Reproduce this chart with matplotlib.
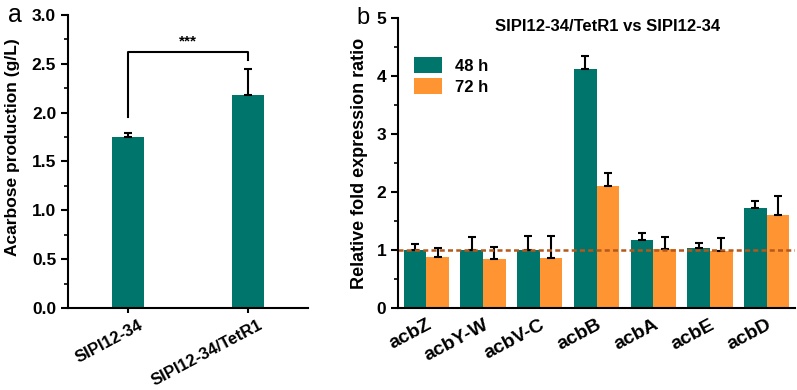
import numpy as np
import matplotlib
matplotlib.use('Agg')
import matplotlib.pyplot as plt
import matplotlib.transforms as mtransforms
from matplotlib.ticker import MultipleLocator

plt.rcParams['font.family'] = ['Liberation Sans', 'DejaVu Sans']
plt.rcParams['font.weight'] = 'bold'

# panel a data
strains = ['SIPI12-34', 'SIPI12-34/TetR1']
production = [1.75, 2.18]
production_err = [0.04, 0.27]

# panel b data
genes = ['acbZ', 'acbY-W', 'acbV-C', 'acbB', 'acbA', 'acbE', 'acbD']
ratio_48h = [1.00, 1.00, 1.00, 4.12, 1.18, 1.04, 1.73]
err_48h = [0.11, 0.22, 0.24, 0.23, 0.12, 0.08, 0.11]
ratio_72h = [0.88, 0.85, 0.87, 2.10, 1.02, 0.98, 1.60]
err_72h = [0.15, 0.21, 0.37, 0.22, 0.20, 0.23, 0.33]

green = '#00756b'
orange = '#ff9433'

fig = plt.figure(figsize=(7.97, 3.9), dpi=100)
ax1 = fig.add_axes([0.0853, 0.2103, 0.3012, 0.7513])
ax2 = fig.add_axes([0.4994, 0.2103, 0.4981, 0.7436])

# panel a
x = np.arange(len(strains))
ax1.bar(x, production, width=0.26, color=green)
ax1.errorbar(x, production, yerr=[np.zeros(len(x)), production_err], fmt='none',
             ecolor='black', elinewidth=1.5, capsize=3, capthick=1.5)
ax1.set_xlim(-0.5, 1.5)
ax1.set_ylim(0, 3.0)
ax1.yaxis.set_major_locator(MultipleLocator(0.5))
ax1.yaxis.set_minor_locator(MultipleLocator(0.25))
ax1.set_xticks(x)
ax1.set_xticklabels(strains, rotation=28, ha='right', rotation_mode='anchor', fontsize=12)
ax1.set_ylabel('Acarbose production (g/L)', fontsize=12.5, fontweight='bold')
ax1.yaxis.set_label_coords(-0.2, 0.55)
ax1.set_yticklabels([f'{v:.1f}' for v in ax1.get_yticks()], fontsize=12.5)
ax1.plot([0, 0, 1, 1], [1.96, 2.62, 2.62, 2.54], color='black', lw=1.5)
ax1.text(0.5, 2.66, '***', ha='center', va='bottom', fontsize=11)
ax1.text(-0.25, 1.0, 'a', transform=ax1.transAxes, fontsize=18, fontweight='normal', va='center')

# panel b
xg = np.arange(len(genes))
w = 0.4
ax2.bar(xg - w / 2, ratio_48h, width=w, color=green, label='48 h')
ax2.bar(xg + w / 2, ratio_72h, width=w, color=orange, label='72 h')
ax2.errorbar(xg - w / 2, ratio_48h, yerr=[np.zeros(len(xg)), err_48h], fmt='none',
             ecolor='black', elinewidth=1.5, capsize=3, capthick=1.5)
ax2.errorbar(xg + w / 2, ratio_72h, yerr=[np.zeros(len(xg)), err_72h], fmt='none',
             ecolor='black', elinewidth=1.5, capsize=3, capthick=1.5)
ax2.axhline(1.0, color='#b5581c', ls=(0, (2, 1.3)), lw=1.8)
ax2.set_xlim(-0.5, 6.5)
ax2.set_ylim(0, 5)
ax2.yaxis.set_major_locator(MultipleLocator(1))
ax2.yaxis.set_minor_locator(MultipleLocator(0.5))
ax2.set_xticks(xg)
ax2.set_xticklabels(genes, rotation=28, ha='right', rotation_mode='anchor', fontsize=14)
ax2.tick_params(axis='x', length=0, pad=6)
ax2.set_yticklabels([f'{int(v)}' for v in ax2.get_yticks()], fontsize=12.5)
ax2.set_ylabel('Relative fold expression ratio', fontsize=13, fontweight='bold')
ax2.yaxis.set_label_coords(-0.075, 0.5)
ax2.text(0.529, 0.969, 'SIPI12-34/TetR1 vs SIPI12-34', transform=ax2.transAxes,
         ha='center', va='center', fontsize=12, fontweight='bold')
ax2.legend(loc='upper left', bbox_to_anchor=(0.01, 0.905), frameon=False, fontsize=12,
           handlelength=1.7, handleheight=1.1, labelspacing=0.25, borderaxespad=0.3)
ax2.text(-0.105, 1.0, 'b', transform=ax2.transAxes, fontsize=17, fontweight='normal', va='center')

for ax in (ax1, ax2):
    ax.spines['top'].set_visible(False)
    ax.spines['right'].set_visible(False)
    ax.spines['left'].set_linewidth(1.5)
    ax.spines['bottom'].set_linewidth(1.5)
    ax.tick_params(axis='y', which='major', width=1.5, length=5)
    ax.tick_params(axis='y', which='minor', width=1.2, length=3)
    ax.tick_params(axis='x', width=1.5)

# nudge the strain labels right so they hang under the ticks like the original
shift = mtransforms.ScaledTranslation(10 / 100, 0, fig.dpi_scale_trans)
for lbl in ax1.get_xticklabels():
    lbl.set_transform(lbl.get_transform() + shift)

fig.savefig('out.png', dpi=100)
